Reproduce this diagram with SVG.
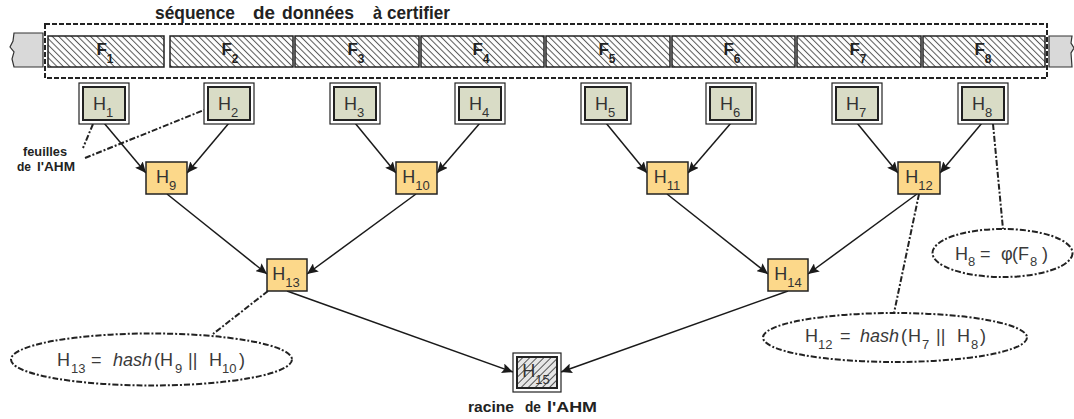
<svg xmlns="http://www.w3.org/2000/svg" width="1074" height="419" viewBox="0 0 1074 419">
<style>
text{font-family:"Liberation Sans",Arial,sans-serif;fill:#333}
.b{font-weight:bold;fill:#222}
.t{font-size:19px}
.l{font-size:13px}
.r{font-size:15px}
.fl{font-weight:bold;font-size:17px;fill:#222}
.fs{font-size:12px;font-weight:bold}
.h{font-size:18px}
.hs{font-size:13px}
.e{font-size:18px;fill:#3a3a3a}
.es{font-size:13px}
.i{font-style:italic}
.fbox{fill:url(#hatchF);stroke:#222;stroke-width:1.5}
.lo{fill:#fff;stroke:#222;stroke-width:1.2}
.li{fill:#d9dcc6;stroke:#222;stroke-width:2}
.ob{fill:#fcd88a;stroke:#222;stroke-width:1.5}
.ar{stroke:#1a1a1a;stroke-width:1.5;fill:none;marker-end:url(#arr)}
.dd{stroke:#222;stroke-width:2;fill:none;stroke-dasharray:6 2 2 2}
.stub{fill:#d9d9d9;stroke:#333;stroke-width:1.2}
</style>
<defs>
<pattern id="hatchF" patternUnits="userSpaceOnUse" width="4.5" height="4.5" patternTransform="rotate(-45)">
<rect width="4.5" height="4.5" fill="#fff"/>
<line x1="2.25" y1="0" x2="2.25" y2="4.5" stroke="#555" stroke-width="1"/>
</pattern>
<pattern id="hatchR" patternUnits="userSpaceOnUse" width="5" height="5" patternTransform="rotate(45)">
<rect width="5" height="5" fill="#e6e6e6"/>
<line x1="2.5" y1="0" x2="2.5" y2="5" stroke="#555" stroke-width="1"/>
</pattern>
<marker id="arr" markerUnits="userSpaceOnUse" markerWidth="12" markerHeight="10" refX="11" refY="5" orient="auto">
<path d="M0,0 L11,5 L0,10 L2,5 Z" fill="#1a1a1a"/>
</marker>
</defs>

<g id="title">
<text class="b t" x="155" y="18.5" textLength="80" lengthAdjust="spacingAndGlyphs">séquence</text>
<text class="b t" x="253" y="18.5" textLength="22" lengthAdjust="spacingAndGlyphs">de</text>
<text class="b t" x="282" y="18.5" textLength="72" lengthAdjust="spacingAndGlyphs">données</text>
<text class="b t" x="373" y="18.5" textLength="9" lengthAdjust="spacingAndGlyphs">à</text>
<text class="b t" x="387" y="18.5" textLength="63" lengthAdjust="spacingAndGlyphs">certifier</text>
</g>

<g id="stubs">
<path class="stub" d="M43,33 L14,33 L13,41 L10,47 L14,52 L12,59 L14,67 L43,67 Z"/>
<path class="stub" d="M1049,36 L1072,36 L1071,43 L1074,48 L1071,53 L1072,67 L1049,67 Z"/>
</g>

<g id="sequence">
<rect x="45" y="24" width="1002" height="54" fill="none" stroke="#222" stroke-width="2" stroke-dasharray="5 2"/>
</g>

<g id="F1"><rect class="fbox" x="48" y="36" width="116" height="31"/><text class="fl" x="105" y="55" text-anchor="middle">F<tspan class="fs" dy="8">1</tspan></text></g>
<g id="F2"><rect class="fbox" x="170" y="36" width="123" height="31"/><text class="fl" x="230" y="55" text-anchor="middle">F<tspan class="fs" dy="8">2</tspan></text></g>
<g id="F3"><rect class="fbox" x="295" y="36" width="124" height="31"/><text class="fl" x="356" y="55" text-anchor="middle">F<tspan class="fs" dy="8">3</tspan></text></g>
<g id="F4"><rect class="fbox" x="421" y="36" width="123" height="31"/><text class="fl" x="481" y="55" text-anchor="middle">F<tspan class="fs" dy="8">4</tspan></text></g>
<g id="F5"><rect class="fbox" x="546" y="36" width="124" height="31"/><text class="fl" x="607" y="55" text-anchor="middle">F<tspan class="fs" dy="8">5</tspan></text></g>
<g id="F6"><rect class="fbox" x="672" y="36" width="123" height="31"/><text class="fl" x="732" y="55" text-anchor="middle">F<tspan class="fs" dy="8">6</tspan></text></g>
<g id="F7"><rect class="fbox" x="797" y="36" width="124" height="31"/><text class="fl" x="858" y="55" text-anchor="middle">F<tspan class="fs" dy="8">7</tspan></text></g>
<g id="F8"><rect class="fbox" x="923" y="36" width="122" height="31"/><text class="fl" x="983" y="55" text-anchor="middle">F<tspan class="fs" dy="8">8</tspan></text></g>

<g id="connectors">
<line class="ar" x1="104" y1="123" x2="146" y2="173"/>
<line class="ar" x1="229" y1="123" x2="187" y2="173"/>
<line class="ar" x1="355" y1="123" x2="396" y2="173"/>
<line class="ar" x1="480" y1="123" x2="437" y2="173"/>
<line class="ar" x1="606" y1="123" x2="647" y2="173"/>
<line class="ar" x1="731" y1="123" x2="688" y2="173"/>
<line class="ar" x1="857" y1="123" x2="898" y2="173"/>
<line class="ar" x1="982" y1="123" x2="940" y2="173"/>
<line class="ar" x1="167" y1="194" x2="267" y2="274"/>
<line class="ar" x1="416" y1="194" x2="307" y2="274"/>
<line class="ar" x1="667" y1="194" x2="768" y2="274"/>
<line class="ar" x1="917" y1="194" x2="808" y2="274"/>
<line class="ar" x1="287" y1="291" x2="513" y2="372"/>
<line class="ar" x1="788" y1="291" x2="561" y2="372"/>
<line class="dd" x1="93" y1="124" x2="83" y2="148"/>
<line class="dd" x1="85" y1="158" x2="204" y2="110"/>
<line class="dd" x1="268" y1="291" x2="213" y2="334"/>
<line class="dd" x1="919" y1="194" x2="894" y2="313"/>
<line class="dd" x1="993" y1="124" x2="1003" y2="229"/>
</g>

<g id="H1"><rect class="lo" x="79" y="83" width="50" height="41"/><rect class="li" x="83" y="87" width="42" height="33"/><text class="h" x="103" y="110" text-anchor="middle">H<tspan class="hs" dy="7">1</tspan></text></g>
<g id="H2"><rect class="lo" x="204" y="83" width="50" height="41"/><rect class="li" x="208" y="87" width="42" height="33"/><text class="h" x="228" y="110" text-anchor="middle">H<tspan class="hs" dy="7">2</tspan></text></g>
<g id="H3"><rect class="lo" x="330" y="83" width="50" height="41"/><rect class="li" x="334" y="87" width="42" height="33"/><text class="h" x="354" y="110" text-anchor="middle">H<tspan class="hs" dy="7">3</tspan></text></g>
<g id="H4"><rect class="lo" x="455" y="83" width="50" height="41"/><rect class="li" x="459" y="87" width="42" height="33"/><text class="h" x="479" y="110" text-anchor="middle">H<tspan class="hs" dy="7">4</tspan></text></g>
<g id="H5"><rect class="lo" x="581" y="83" width="50" height="41"/><rect class="li" x="585" y="87" width="42" height="33"/><text class="h" x="605" y="110" text-anchor="middle">H<tspan class="hs" dy="7">5</tspan></text></g>
<g id="H6"><rect class="lo" x="706" y="83" width="50" height="41"/><rect class="li" x="710" y="87" width="42" height="33"/><text class="h" x="730" y="110" text-anchor="middle">H<tspan class="hs" dy="7">6</tspan></text></g>
<g id="H7"><rect class="lo" x="832" y="83" width="50" height="41"/><rect class="li" x="836" y="87" width="42" height="33"/><text class="h" x="856" y="110" text-anchor="middle">H<tspan class="hs" dy="7">7</tspan></text></g>
<g id="H8"><rect class="lo" x="958" y="83" width="50" height="41"/><rect class="li" x="962" y="87" width="42" height="33"/><text class="h" x="982" y="110" text-anchor="middle">H<tspan class="hs" dy="7">8</tspan></text></g>

<g id="H9"><rect class="ob" x="146" y="162" width="41" height="32"/><text class="h" x="166" y="183" text-anchor="middle">H<tspan class="hs" dy="7">9</tspan></text></g>
<g id="H10"><rect class="ob" x="396" y="162" width="41" height="32"/><text class="h" x="416" y="183" text-anchor="middle">H<tspan class="hs" dy="7">10</tspan></text></g>
<g id="H11"><rect class="ob" x="647" y="162" width="41" height="32"/><text class="h" x="667" y="183" text-anchor="middle">H<tspan class="hs" dy="7">11</tspan></text></g>
<g id="H12"><rect class="ob" x="898" y="162" width="42" height="32"/><text class="h" x="919" y="183" text-anchor="middle">H<tspan class="hs" dy="7">12</tspan></text></g>
<g id="H13"><rect class="ob" x="267" y="259" width="40" height="32"/><text class="h" x="286" y="280" text-anchor="middle">H<tspan class="hs" dy="7">13</tspan></text></g>
<g id="H14"><rect class="ob" x="768" y="259" width="40" height="32"/><text class="h" x="788" y="280" text-anchor="middle">H<tspan class="hs" dy="7">14</tspan></text></g>

<g id="H15"><rect class="lo" x="513" y="353" width="48" height="39"/><rect fill="url(#hatchR)" stroke="#222" stroke-width="2" x="517" y="357" width="40" height="31"/><text class="h" x="536" y="377" text-anchor="middle">H<tspan class="hs" dy="7">15</tspan></text></g>

<g id="leaf-label">
<text class="b l" x="23" y="156" textLength="44" lengthAdjust="spacingAndGlyphs">feuilles</text>
<text class="b l" x="17" y="171" textLength="14" lengthAdjust="spacingAndGlyphs">de</text>
<text class="b l" x="37" y="171" textLength="38" lengthAdjust="spacingAndGlyphs">l'AHM</text>
</g>

<g id="root-label">
<text class="b r" x="468" y="412" textLength="46" lengthAdjust="spacingAndGlyphs">racine</text>
<text class="b r" x="525" y="412" textLength="16" lengthAdjust="spacingAndGlyphs">de</text>
<text class="b r" x="547" y="412" textLength="50" lengthAdjust="spacingAndGlyphs">l'AHM</text>
</g>

<g id="note-H13">
<ellipse class="dd" cx="151.5" cy="359.5" rx="140.5" ry="26"/>
<text class="e" y="366"><tspan x="57">H</tspan><tspan class="es" x="71" y="373">13</tspan><tspan x="91" y="366">=</tspan><tspan class="i" x="113">hash</tspan><tspan x="154">(</tspan><tspan x="160">H</tspan><tspan class="es" x="175" y="373">9</tspan><tspan x="188" y="366">||</tspan><tspan x="209">H</tspan><tspan class="es" x="222" y="373">10</tspan><tspan x="239" y="366">)</tspan></text>
</g>

<g id="note-H12">
<ellipse class="dd" cx="895" cy="337.5" rx="132" ry="24.5"/>
<text class="e" y="342"><tspan x="805">H</tspan><tspan class="es" x="818" y="349">12</tspan><tspan x="840" y="342">=</tspan><tspan class="i" x="860">hash</tspan><tspan x="901">(</tspan><tspan x="908">H</tspan><tspan class="es" x="922" y="349">7</tspan><tspan x="936" y="342">||</tspan><tspan x="957">H</tspan><tspan class="es" x="971" y="349">8</tspan><tspan x="980" y="342">)</tspan></text>
</g>

<g id="note-H8">
<ellipse class="dd" cx="1002.5" cy="253" rx="70" ry="24"/>
<text class="e" y="260"><tspan x="955">H</tspan><tspan class="es" x="968" y="266">8</tspan><tspan x="980" y="260">=</tspan><tspan x="1001">φ</tspan><tspan x="1012">(</tspan><tspan x="1018">F</tspan><tspan class="es" x="1030" y="266">8</tspan><tspan x="1042" y="260">)</tspan></text>
</g>
</svg>
